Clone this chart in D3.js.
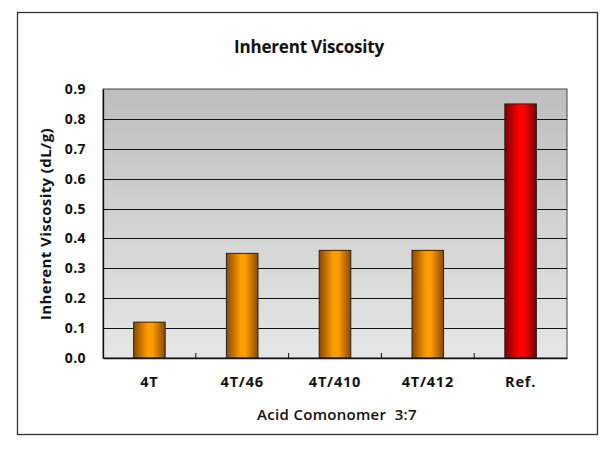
<!DOCTYPE html>
<html><head><meta charset="utf-8">
<script src="https://cdn.jsdelivr.net/npm/d3@7"></script>
<style>body{margin:0;background:#fff}svg{display:block}</style>
</head><body>
<script>
const categories = ["4T", "4T/46", "4T/410", "4T/412", "Ref."];
const values = [0.12, 0.35, 0.36, 0.36, 0.85];
const yTicks = [0, 0.1, 0.2, 0.3, 0.4, 0.5, 0.6, 0.7, 0.8, 0.9];
const barKinds = ["o", "o", "o", "o", "r"];

const W = 612, H = 453;
const FONT = "'Open Sans', 'DejaVu Sans', sans-serif";
const m = {left: 103, right: 612 - 567, top: 89, bottom: 453 - 358};
const svg = d3.select("body").append("svg").attr("width", W).attr("height", H);
const defs = svg.append("defs");

const bg = defs.append("linearGradient").attr("id", "bg").attr("x1", 0).attr("y1", 0).attr("x2", 0).attr("y2", 1);
bg.append("stop").attr("offset", "0%").attr("stop-color", "#bebebe");
bg.append("stop").attr("offset", "100%").attr("stop-color", "#e6e6e6");

function barGrad(id, edge, mid) {
  const g = defs.append("linearGradient").attr("id", id).attr("x1", 0).attr("y1", 0).attr("x2", 1).attr("y2", 0);
  g.append("stop").attr("offset", "0%").attr("stop-color", edge);
  g.append("stop").attr("offset", "45%").attr("stop-color", mid);
  g.append("stop").attr("offset", "60%").attr("stop-color", mid);
  g.append("stop").attr("offset", "100%").attr("stop-color", edge);
}
barGrad("go", "#8a4a00", "#ff9c00");
barGrad("gr", "#7a0000", "#ff0000");

// outer frame
svg.append("rect").attr("x", 17.5).attr("y", 12.5).attr("width", 580).attr("height", 422)
  .attr("fill", "#fff").attr("stroke", "#333").attr("stroke-width", 1.3);

const x = d3.scaleBand().domain(categories).range([m.left, W - m.right]).paddingInner(0.66).paddingOuter(0.33);
const y = d3.scaleLinear().domain([0, 0.9]).range([H - m.bottom, m.top]);
const plotCx = (m.left + W - m.right) / 2;

svg.append("rect").attr("x", m.left).attr("y", m.top).attr("width", W - m.right - m.left).attr("height", H - m.bottom - m.top)
  .attr("fill", "url(#bg)").attr("stroke", "#444").attr("stroke-width", 1);

// gridlines
svg.append("g").selectAll("line").data(yTicks.filter(d => d > 0 && d < 0.9)).join("line")
  .attr("x1", m.left).attr("x2", W - m.right)
  .attr("y1", d => Math.round(y(d)) + 0.5).attr("y2", d => Math.round(y(d)) + 0.5)
  .attr("stroke", "#111").attr("stroke-width", 1);

// bars
svg.append("g").selectAll("rect").data(categories).join("rect")
  .attr("x", d => x(d)).attr("width", x.bandwidth())
  .attr("y", (d, i) => y(values[i])).attr("height", (d, i) => y(0) - y(values[i]))
  .attr("fill", (d, i) => barKinds[i] === "r" ? "url(#gr)" : "url(#go)")
  .attr("stroke", "#222").attr("stroke-width", 1);

// y axis
const yAxis = svg.append("g").attr("transform", `translate(${m.left},0)`)
  .call(d3.axisLeft(y).tickValues(yTicks).tickFormat(d3.format(".1f")).tickSize(0).tickPadding(17));
yAxis.select(".domain").attr("stroke", "#111").attr("stroke-width", 1.3);
yAxis.selectAll("text").attr("font-family", FONT).attr("font-weight", "bold").attr("font-size", 14)
  .attr("letter-spacing", 0.4).attr("fill", "#111");

// x axis
const xAxis = svg.append("g").attr("transform", `translate(0,${H - m.bottom})`)
  .call(d3.axisBottom(x).tickSize(0).tickPadding(19));
xAxis.select(".domain").attr("stroke", "#111").attr("stroke-width", 1.3);
xAxis.selectAll("text").attr("font-family", FONT).attr("font-weight", "bold").attr("font-size", 14.5)
  .attr("letter-spacing", 0.8).attr("fill", "#111");
// small inward tick marks between categories
svg.append("g").selectAll("line").data(categories.slice(1)).join("line")
  .attr("x1", d => x(d) - x.bandwidth() * 0.97).attr("x2", d => x(d) - x.bandwidth() * 0.97)
  .attr("y1", H - m.bottom).attr("y2", H - m.bottom - 5)
  .attr("stroke", "#111").attr("stroke-width", 1);

// titles
svg.append("text").attr("x", 309).attr("y", 53).attr("text-anchor", "middle")
  .attr("font-family", FONT).attr("font-weight", "bold").attr("font-size", 17)
  .attr("letter-spacing", -0.2).attr("fill", "#111").text("Inherent Viscosity");
svg.append("text").attr("x", plotCx + 2).attr("y", 420).attr("text-anchor", "middle")
  .attr("font-family", FONT).attr("font-weight", 600).attr("font-size", 15).attr("fill", "#111")
  .attr("letter-spacing", 0.3).attr("xml:space", "preserve").text("Acid Comonomer  3:7");
svg.append("text").attr("transform", "translate(51,224) rotate(-90)").attr("text-anchor", "middle")
  .attr("font-family", FONT).attr("font-weight", "bold").attr("font-size", 15)
  .attr("letter-spacing", 0.4).attr("fill", "#111").text("Inherent Viscosity (dL/g)");
</script>
</body></html>
